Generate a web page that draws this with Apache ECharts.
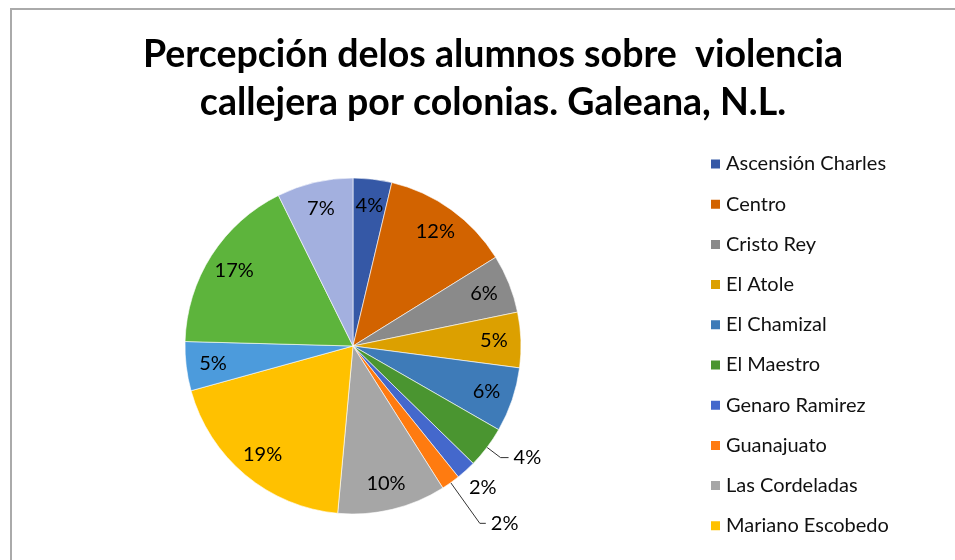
<!DOCTYPE html>
<html>
<head>
<meta charset="utf-8">
<script src="https://cdn.jsdelivr.net/npm/echarts@6/dist/echarts.min.js"></script>
<style>
  html, body { margin: 0; padding: 0; background: #fff; }
  #chart { width: 955px; height: 560px; }
</style>
</head>
<body>
<div id="chart"></div>
<script>
// colonias (las 3 ultimas quedan fuera del recorte de la leyenda)
const colonias = [
  'Ascensión Charles', 'Centro', 'Cristo Rey', 'El Atole', 'El Chamizal',
  'El Maestro', 'Genaro Ramirez', 'Guanajuato', 'Las Cordeladas',
  'Mariano Escobedo', 'Colonia 11', 'Colonia 12', 'Colonia 13'
];
// las que alcanzan a verse en la leyenda
const enLeyenda = colonias.slice(0, 10);
const porcentajes = [3.7, 12.4, 5.6, 5.3, 6.2, 4.0, 1.9, 1.8, 10.4, 19.2, 4.7, 17.2, 7.3];
const colores = [
  '#3558a6', '#d26300', '#8a8a8a', '#dca000', '#3e7bb8', '#4a9530', '#4468cc',
  '#ff7b10', '#a6a6a6', '#ffc100', '#4c9bdc', '#5db43c', '#a3b0df'
];
const titulo = 'Percepción delos alumnos sobre  violencia\ncallejera por colonias. Galeana, N.L.';

// etiquetas que van fuera del pastel
const fuera = {
  'El Maestro': { length: 17, length2: 8, show: true },
  'Genaro Ramirez': { length: 12, length2: 0, show: false },
  'Guanajuato': { length: 50, length2: 6, show: true }
};
// ajuste fino de la etiqueta sin linea
const ajuste = {
  'Genaro Ramirez': { dx: -10, dy: 8 }
};

const fuente = 'Lato, "Open Sans", sans-serif';
const pctLabel = p => Math.round(p.percent) + '%';

const chart = echarts.init(document.getElementById('chart'));

const option = {
  animation: false,
  color: colores,
  title: {
    text: titulo,
    left: 488,
    textAlign: 'center',
    top: 26,
    textStyle: {
      fontFamily: fuente,
      fontWeight: 'bold',
      fontSize: 37.5,
      lineHeight: 48,
      color: '#000'
    }
  },
  legend: {
    orient: 'vertical',
    left: 704,
    top: 149,
    height: 700,
    icon: 'rect',
    itemWidth: 11,
    itemHeight: 11,
    itemGap: 20.2,
    selectedMode: false,
    data: enLeyenda,
    textStyle: { fontFamily: fuente, fontSize: 20, lineHeight: 20, color: '#111' }
  },
  graphic: [{
    type: 'rect',
    shape: { x: 11, y: 9, width: 1000, height: 600 },
    style: { fill: 'none', stroke: '#aaaaaa', lineWidth: 2 },
    silent: true
  }],
  series: [
    {
      // rebanadas
      type: 'pie',
      center: [353, 346],
      radius: [0, 168],
      startAngle: 90,
      label: { show: false },
      labelLine: { show: false },
      itemStyle: { borderColor: '#fff', borderWidth: 0.6 },
      data: colonias.map((n, i) => ({ name: n, value: porcentajes[i] }))
    },
    {
      // solo etiquetas, a ~0.82 del radio como en Excel
      type: 'pie',
      center: [353, 346],
      radius: [108, 168],
      startAngle: 90,
      silent: true,
      legendHoverLink: false,
      avoidLabelOverlap: false,
      itemStyle: { color: 'rgba(0,0,0,0)' },
      label: {
        show: true,
        position: 'inside',
        formatter: pctLabel,
        fontFamily: fuente,
        fontSize: 20,
        color: '#000'
      },
      labelLine: { show: false },
      labelLayout: p => {
        const a = ajuste[colonias[p.dataIndex]];
        return a ? { dx: a.dx, dy: a.dy } : {};
      },
      data: colonias.map((n, i) => {
        const d = { name: n, value: porcentajes[i] };
        if (fuera[n]) {
          d.label = { position: 'outside', fontFamily: fuente, fontSize: 20, color: '#000' };
          d.labelLine = {
            show: fuera[n].show,
            length: fuera[n].length,
            length2: fuera[n].length2,
            lineStyle: { color: '#333', width: 1 }
          };
        }
        return d;
      })
    }
  ]
};

chart.setOption(option);
</script>
</body>
</html>
